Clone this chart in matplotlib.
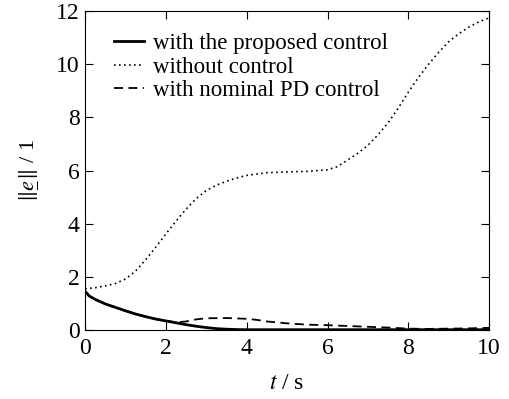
import matplotlib
matplotlib.use('Agg')
import matplotlib.pyplot as plt

plt.rcParams['font.family'] = 'Liberation Serif'
plt.rcParams['mathtext.fontset'] = 'stix'
plt.rcParams['font.size'] = 13

t_free = [0, 0.25, 0.5, 0.75, 1.0, 1.25, 1.5, 1.75, 2.0, 2.25, 2.5, 2.75, 3.0, 3.25, 3.5,
          3.75, 4.0, 4.5, 5.0, 5.5, 6.0, 6.25, 6.5, 6.75, 7.0, 7.25, 7.5, 7.75, 8.0,
          8.25, 8.5, 8.75, 9.0, 9.25, 9.5, 9.75, 10.0]
e_free = [1.55, 1.59, 1.66, 1.75, 1.92, 2.22, 2.65, 3.12, 3.62, 4.1, 4.55, 4.95, 5.25, 5.45,
          5.6, 5.72, 5.82, 5.92, 5.95, 5.97, 6.03, 6.15, 6.4, 6.65, 6.95, 7.35, 7.8,
          8.35, 8.95, 9.5, 10.0, 10.45, 10.85, 11.15, 11.4, 11.6, 11.75]

t_prop = [0, 0.1, 0.25, 0.5, 0.75, 1.0, 1.25, 1.5, 1.75, 2.0, 2.25, 2.5, 2.75, 3.0, 3.25,
          3.5, 3.75, 4.0, 5.0, 6.0, 7.0, 8.0, 9.0, 10.0]
e_prop = [1.45, 1.28, 1.15, 0.98, 0.85, 0.72, 0.6, 0.5, 0.41, 0.34, 0.27, 0.2, 0.14,
          0.09, 0.05, 0.03, 0.015, 0.01, 0.01, 0.01, 0.01, 0.01, 0.01, 0.01]

t_pd = [0, 0.1, 0.25, 0.5, 0.75, 1.0, 1.25, 1.5, 1.75, 2.0, 2.25, 2.5, 2.75, 3.0, 3.5,
        4.0, 4.25, 4.5, 5.0, 5.5, 6.0, 6.5, 7.0, 7.5, 8.0, 8.5, 9.0, 9.5, 10.0]
e_pd = [1.45, 1.28, 1.15, 0.98, 0.85, 0.72, 0.6, 0.5, 0.41, 0.34, 0.29, 0.32, 0.4,
        0.44, 0.45, 0.42, 0.38, 0.32, 0.25, 0.2, 0.18, 0.15, 0.12, 0.09, 0.05, 0.04,
        0.05, 0.06, 0.08]

fig, ax = plt.subplots(figsize=(5.1, 3.99), dpi=100)
fig.subplots_adjust(left=0.167, right=0.959, top=0.972, bottom=0.173)

ax.plot(t_prop, e_prop, color='black', lw=2.0, ls='-', label='with the proposed control')
ax.plot(t_free, e_free, color='black', lw=1.2, ls=(0, (1, 2)), label='without control')
ax.plot(t_pd, e_pd, color='black', lw=1.3, ls=(0, (5, 3)), label='with nominal PD control')

ax.set_xlim(0, 10)
ax.set_ylim(0, 12)
ax.set_xticks([0, 2, 4, 6, 8, 10])
ax.set_yticks([0, 2, 4, 6, 8, 10, 12])
ax.tick_params(direction='in', top=True, right=True, length=6, width=0.8, labelsize=17)
ax.tick_params(axis='x', pad=6)
ax.tick_params(axis='y', pad=4)
ax.set_xlabel(r'$t$ / s', fontsize=17, labelpad=10)
ax.set_ylabel(r'$\Vert\underset{-}{e}\Vert$ / 1', fontsize=16, labelpad=13)

ax.legend(loc='upper left', frameon=False, fontsize=16.5, handlelength=1.3,
          handletextpad=0.4, labelspacing=0.1, bbox_to_anchor=(0.02, 0.995))

fig.savefig('out.png', dpi=100)
